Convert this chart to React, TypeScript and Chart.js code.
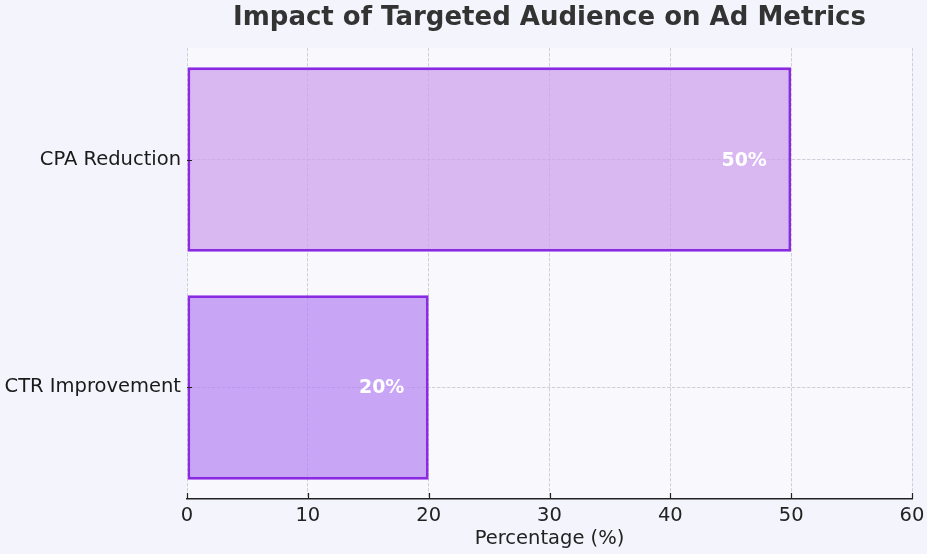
import React, { useEffect, useRef } from "react";
import { Chart, registerables } from "chart.js";

Chart.register(...registerables);

const categories = ["CPA Reduction", "CTR Improvement"];
const values = [50, 20];
const barColors = ["rgba(204,157,237,0.7)", "rgba(180,129,241,0.7)"];
const xTicks = [0, 10, 20, 30, 40, 50, 60];
const titleText = "Impact of Targeted Audience on Ad Metrics";
const xTitle = "Percentage (%)";

const FONT = "'DejaVu Sans', sans-serif";
const GRID = "rgba(195,195,208,0.75)";

const customPlugin = {
  id: "custom",
  beforeDraw(chart: any) {
    const { ctx, chartArea } = chart;
    ctx.save();
    ctx.fillStyle = "#f4f4fc";
    ctx.fillRect(0, 0, chart.width, chart.height);
    ctx.fillStyle = "#f8f8fd";
    ctx.fillRect(chartArea.left, chartArea.top, chartArea.right - chartArea.left, chartArea.bottom - chartArea.top);
    ctx.restore();
  },
  afterDatasetsDraw(chart: any) {
    const { ctx, chartArea } = chart;
    const xs = chart.scales.x;
    const ys = chart.scales.y;
    ctx.save();
    ctx.fillStyle = "#ffffff";
    ctx.font = `bold 19px ${FONT}`;
    ctx.textAlign = "center";
    ctx.textBaseline = "middle";
    values.forEach((v, i) => {
      const px = xs.getPixelForValue(v) - 47;
      const py = ys.getPixelForValue(i);
      ctx.fillText(`${v}%`, px, py + 1);
    });
    ctx.strokeStyle = "#222";
    ctx.lineWidth = 1.2;
    ctx.beginPath();
    xs.ticks.forEach((t: any) => {
      const px = Math.round(xs.getPixelForValue(t.value)) + 0.5;
      ctx.moveTo(px, chartArea.bottom);
      ctx.lineTo(px, chartArea.bottom - 6);
    });
    ys.ticks.forEach((t: any) => {
      const py = Math.round(ys.getPixelForValue(t.value)) + 0.5;
      ctx.moveTo(chartArea.left, py);
      ctx.lineTo(chartArea.left + 5, py);
    });
    ctx.stroke();
    ctx.restore();
  },
  afterDraw(chart: any) {
    const { ctx, chartArea } = chart;
    ctx.save();
    ctx.fillStyle = "#333333";
    ctx.font = `bold 26px ${FONT}`;
    ctx.textAlign = "center";
    ctx.textBaseline = "alphabetic";
    ctx.fillText(titleText, (chartArea.left + chartArea.right) / 2, 25);
    ctx.restore();
  },
};

export default function App() {
  const ref = useRef<HTMLCanvasElement>(null);
  useEffect(() => {
    document.body.style.margin = "0";
    const chart = new Chart(ref.current!, {
      type: "bar",
      data: {
        datasets: [
          {
            data: values.map((v, i) => ({ x: v, y: i })),
            backgroundColor: barColors,
            borderColor: "#8a2be2",
            borderWidth: 2.8,
            borderSkipped: false,
            barPercentage: 0.81,
            categoryPercentage: 1.0,
          },
        ],
      },
      options: {
        indexAxis: "y",
        responsive: false,
        animation: false,
        layout: { padding: { top: 48, right: 15, left: 0, bottom: 0 } },
        plugins: { legend: { display: false }, tooltip: { enabled: false }, title: { display: false } },
        scales: {
          x: {
            type: "linear",
            min: 0,
            max: 60,
            offset: false,
            afterBuildTicks(scale: any) {
              scale.ticks = xTicks.map((v) => ({ value: v }));
            },
            afterFit(scale: any) {
              scale.height = 55;
              scale.paddingRight = 0;
            },
            grid: {
              color: GRID,
              lineWidth: 1,
              drawTicks: false,
              offset: false,
            },
            border: { display: true, color: "#222", width: 1.5, dash: [3.5, 1.5] },
            ticks: {
              padding: 5,
              color: "#222",
              font: { family: FONT, size: 19.5 },
            },
            title: {
              display: true,
              text: xTitle,
              color: "#222",
              font: { family: FONT, size: 19.5 },
              padding: { top: 0, bottom: 3 },
            },
          },
          y: {
            type: "linear",
            min: -0.49,
            max: 1.49,
            reverse: true,
            offset: false,
            afterBuildTicks(scale: any) {
              scale.ticks = categories.map((_, i) => ({ value: i }));
            },
            afterFit(scale: any) {
              scale.width = 187;
            },
            grid: {
              color: GRID,
              lineWidth: 1,
              drawTicks: false,
              offset: false,
            },
            border: { display: false, dash: [3.5, 1.5] },
            ticks: {
              padding: 6,
              color: "#1a1a1a",
              font: { family: FONT, size: 19.5 },
              callback: (v: any) => categories[v] ?? "",
            },
          },
        },
      },
      plugins: [customPlugin],
    } as any);
    return () => chart.destroy();
  }, []);
  return (
    <div style={{ position: "fixed", left: 0, top: 0, width: 927, height: 554 }}>
      <canvas ref={ref} width={927} height={554} />
    </div>
  );
}
